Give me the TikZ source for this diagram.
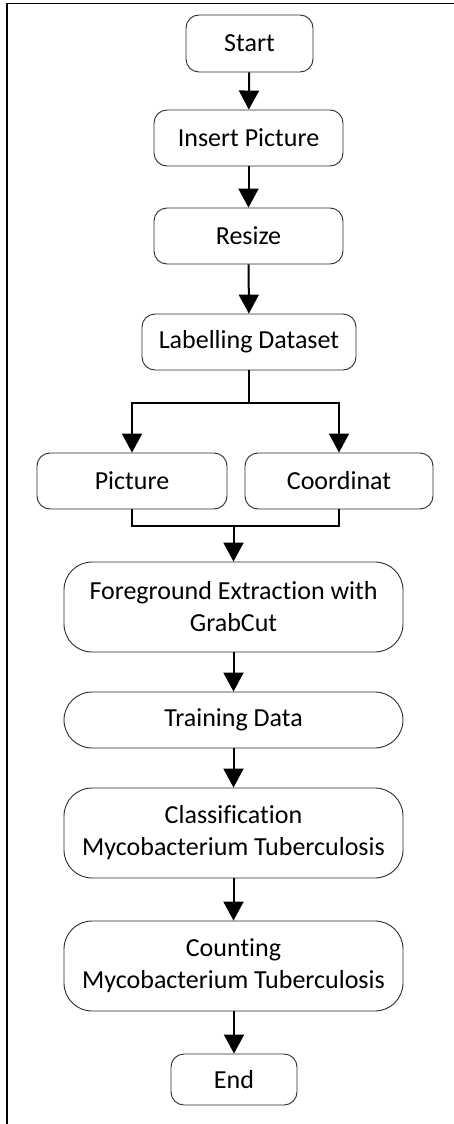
\documentclass[tikz,border=0pt]{standalone}
\usepackage{fontspec}
\setmainfont{Carlito}[RawFeature=-liga]
\usepackage{tikz}
\usetikzlibrary{arrows.meta,calc,positioning}
\definecolor{boxLine}{HTML}{2B2B2B}

\tikzset{
  stepbox/.style={draw=boxLine,line width=0.9pt,rounded corners=13pt,
    align=center,inner sep=0pt,font=\fontsize{26}{32}\selectfont},
  bigbox/.style={stepbox,rounded corners=28pt},
  flow/.style={line width=2pt,-{Triangle[length=19pt,width=20pt]}},
  joinline/.style={line width=2pt}
}

\begin{document}
\begin{tikzpicture}[x=1pt,y=-1pt]
    \useasboundingbox (0,0) rectangle (454,1124);
    \draw[line width=1.8pt] (454,3.5)--(7,3.5)--(7,1124);

    \node[stepbox,minimum width=127pt,minimum height=57pt] (start) at (249.5,43.5) {Start};
    \node[stepbox,minimum width=189pt,minimum height=56pt] (insert) at (248.5,138) {Insert Picture};
    \node[stepbox,minimum width=189pt,minimum height=56pt] (resize) at (248.5,236) {Resize};
    \node[stepbox,minimum width=214pt,minimum height=56pt] (label) at (249,342) {Labelling Dataset};
    \node[stepbox,minimum width=190pt,minimum height=56pt] (pic) at (132,481) {Picture};
    \node[stepbox,minimum width=188pt,minimum height=56pt] (coord) at (339,481) {Coordinat};
    \node[bigbox,minimum width=339pt,minimum height=90pt] (grab) at (233.5,607)
      {Foreground Extraction with\\GrabCut};
    \node[bigbox,minimum width=339pt,minimum height=56pt] (train) at (233.5,720) {Training Data};
    \node[bigbox,minimum width=339pt,minimum height=90pt] (classify) at (233.5,833)
      {Classification\\Mycobacterium Tuberculosis};
    \node[bigbox,minimum width=339pt,minimum height=90pt] (count) at (233.5,966)
      {Counting\\Mycobacterium Tuberculosis};
    \node[stepbox,minimum width=126pt,minimum height=51pt] (end) at (234,1079.5) {End};

    \coordinate (split) at (label.south |- 0,403);
    \coordinate (merge) at (grab.north |- 0,526);

    \draw[flow] (start)--(insert);
    \draw[flow] (insert)--(resize);
    \draw[flow] (resize)--(label);
    \draw[joinline] (label.south)--(split);
    \draw[flow] (split)-|(pic.north);
    \draw[flow] (split)-|(coord.north);
    \draw[joinline] (pic.south)|-(coord.south |- merge)--(coord.south);
    \draw[flow] (merge)--(grab.north);
    \draw[flow] (grab)--(train);
    \draw[flow] (train)--(classify);
    \draw[flow] (classify)--(count);
    \draw[flow] (count.south -| end.north)--(end);
  \end{tikzpicture}
\end{document}
